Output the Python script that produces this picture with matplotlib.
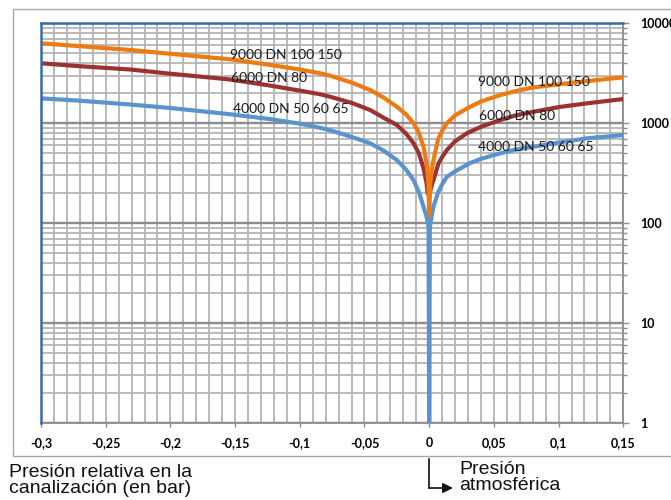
import matplotlib
matplotlib.use("Agg")
import matplotlib.pyplot as plt
from matplotlib.ticker import MultipleLocator, LogLocator, NullFormatter
from matplotlib.patches import Rectangle
from matplotlib.lines import Line2D

# ---- data ----
x_orange = [-0.3, -0.27, -0.2312, -0.2, -0.1539, -0.1229, -0.1, -0.0843, -0.0765, -0.06, -0.0456, -0.035,
            -0.025, -0.018, -0.0121, -0.008, -0.0044, -0.002, -0.001, -0.0005, 0.0,
            0.0008, 0.002, 0.0033, 0.007, 0.01, 0.0137, 0.02, 0.0317, 0.04, 0.0549, 0.067, 0.0807,
            0.1, 0.1219, 0.15]
y_orange = [6310, 5900, 5410, 4950, 4365, 3830, 3450, 3160, 2990, 2550, 2150, 1800,
            1462, 1230, 1000, 800, 582, 390, 290, 215, 120,
            250, 340, 428, 700, 840, 1000, 1200, 1462, 1650, 1914, 2100, 2285,
            2450, 2640, 2880]

x_red = [-0.3, -0.27, -0.2312, -0.2, -0.1539, -0.1229, -0.1, -0.0843, -0.0765, -0.06, -0.0456, -0.035,
         -0.025, -0.018, -0.0121, -0.008, -0.0044, -0.002, -0.0013, 0.0,
         0.001, 0.002, 0.0033, 0.007, 0.01, 0.0137, 0.02, 0.0291, 0.04, 0.0549, 0.067, 0.0807,
         0.1, 0.1219, 0.15]
y_red = [3980, 3720, 3450, 3130, 2740, 2380, 2120, 1950, 1840, 1600, 1356, 1130,
         960, 790, 630, 500, 355, 250, 205, 185,
         215, 240, 270, 390, 460, 540, 660, 793, 920, 1077, 1200, 1303,
         1450, 1581, 1746]

x_blue = [-0.3, -0.27, -0.2312, -0.2, -0.1539, -0.1229, -0.1, -0.0843, -0.0765, -0.06, -0.0456, -0.035,
          -0.025, -0.018, -0.0121, -0.008, -0.0044, -0.002, -0.001, -0.0005, 0.0,
          0.0005, 0.001, 0.002, 0.0033, 0.007, 0.01, 0.0137, 0.02, 0.0317, 0.04, 0.0549, 0.067, 0.0807,
          0.1, 0.1219, 0.15]
y_blue = [1774, 1680, 1540, 1420, 1230, 1100, 990, 900, 850, 730, 630, 530,
          428, 345, 270, 205, 146, 115, 100, 90, 1,
          90, 100, 120, 146, 205, 245, 291, 330, 400, 440, 500, 545, 582,
          640, 706, 762]

series_labels = ["9000 DN 100 150", "6000 DN 80", "4000 DN 50 60 65"]

x_ticks = [-0.3, -0.25, -0.2, -0.15, -0.1, -0.05, 0.0, 0.05, 0.1, 0.15]
x_tick_labels = ["-0,3", "-0,25", "-0,2", "-0,15", "-0,1", "-0,05", "0", "0,05", "0,1", "0,15"]
y_ticks = [1, 10, 100, 1000, 10000]
y_tick_labels = ["1", "10", "100", "1000", "10000"]

xlabel_text = "Presión relativa en la\ncanalización (en bar)"
atm_text = "Presión\natmosférica"

# ---- figure ----
W, H = 671, 500
fig = plt.figure(figsize=(W / 100, H / 100), dpi=100)
fig.patch.set_facecolor("white")

# outer chart frame
fig.add_artist(Rectangle((13.3 / W, 1 - 456 / H), 1.0, (456 - 9) / H,
                         transform=fig.transFigure, fill=False,
                         edgecolor="#a8a8a8", linewidth=1.0))

ax = fig.add_axes([41 / W, 1 - 423 / H, (623.3 - 41) / W, (423 - 23.3) / H])
ax.set_yscale("log")
ax.set_xlim(-0.3, 0.15)
ax.set_ylim(1, 10000)

# grid
ax.xaxis.set_minor_locator(MultipleLocator(0.01))
ax.yaxis.set_minor_locator(LogLocator(base=10, subs=range(2, 10)))
ax.yaxis.set_minor_formatter(NullFormatter())
ax.grid(which="minor", axis="both", color="#b4b4b4", linewidth=1.3)
ax.grid(which="major", axis="x", color="#b4b4b4", linewidth=1.3)
ax.grid(which="major", axis="y", color="#8c8c8c", linewidth=1.7)
ax.set_axisbelow(True)

lw = 3.0
ax.plot(x_blue, y_blue, color="#5b93cf", linewidth=lw, solid_joinstyle="round",
        solid_capstyle="butt", zorder=3)
ax.plot(x_red, y_red, color="#9b3232", linewidth=lw, solid_joinstyle="round", zorder=4)
ax.plot(x_orange, y_orange, color="#ee7a12", linewidth=lw, solid_joinstyle="round", zorder=5)

# ticks
ax.set_xticks(x_ticks)
ax.set_xticklabels(x_tick_labels)
ax.set_yticks(y_ticks)
ax.set_yticklabels(y_tick_labels)
ax.yaxis.tick_right()
for lab in ax.get_xticklabels() + ax.get_yticklabels():
    lab.set_fontfamily("Lato")
    lab.set_fontweight("bold")
    lab.set_fontsize(9)
ax.tick_params(axis="x", which="major", length=3, width=1, color="#8c8c8c", pad=7, direction="out")
ax.tick_params(axis="x", which="minor", length=0)
ax.tick_params(axis="y", which="major", length=4, width=1, color="#8c8c8c", pad=8, direction="out")
ax.tick_params(axis="y", which="minor", length=3, width=1, color="#8c8c8c", direction="out")

for s in ["bottom", "right"]:
    ax.spines[s].set_color("#8c8c8c")
    ax.spines[s].set_linewidth(1.3)
for s in ["left", "top"]:
    ax.spines[s].set_color("#3c6aa8")
    ax.spines[s].set_linewidth(1.8)
    ax.spines[s].set_zorder(6)

# series labels
lab_font = dict(family="Lato", size=10, color="#1a1a1a", va="center", ha="left", zorder=7)
left_pos = [(0.3246, 0.9207), (0.326, 0.863), (0.330, 0.7856)]
right_pos = [(0.7505, 0.853), (0.752, 0.768), (0.7505, 0.6905)]
for txt, (px, py) in zip(series_labels, left_pos):
    ax.text(px, py, txt, transform=ax.transAxes, **lab_font)
for txt, (px, py) in zip(series_labels, right_pos):
    ax.text(px, py, txt, transform=ax.transAxes, **lab_font)

# bottom texts
fig.text(9 / W, 1 - 464 / H, xlabel_text, family="Liberation Sans", size=14,
         va="top", ha="left", linespacing=0.95, color="#111111")
fig.text(459 / W, 1 - 461 / H, atm_text, family="Liberation Sans", size=14,
         va="top", ha="left", linespacing=0.95, color="#111111")

# atmospheric pressure arrow
fig.add_artist(Line2D([429 / W, 429 / W], [1 - 459 / H, 1 - 488 / H],
                      transform=fig.transFigure, color="#111111", linewidth=1.2))
ax.annotate("", xy=(453, H - 488), xytext=(429, H - 488),
            xycoords="figure pixels", textcoords="figure pixels",
            arrowprops=dict(arrowstyle="-|>,head_length=0.6,head_width=0.3",
                            color="#111111", linewidth=1.2, shrinkA=0, shrinkB=0))

fig.savefig("out.png", dpi=100)
